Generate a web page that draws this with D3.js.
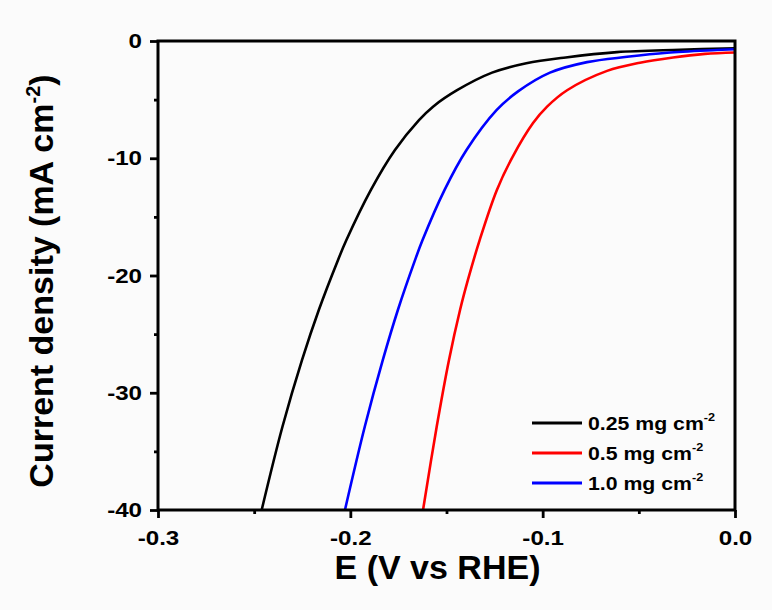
<!DOCTYPE html>
<html>
<head>
<meta charset="utf-8">
<script src="https://cdn.jsdelivr.net/npm/d3@7/dist/d3.min.js"></script>
<style>
  body { margin: 0; background: #fbfbfb; }
  svg { display: block; }
  text { font-family: "Liberation Sans", Arial, sans-serif; font-weight: bold; fill: #000; }
</style>
</head>
<body>
<svg id="chart" width="772" height="610"></svg>
<script>
// LSV polarization curves: potential (V vs RHE) and current density (mA cm^-2)
const potential025 = [-0.2461, -0.2353, -0.2251, -0.2163, -0.2067, -0.2021, -0.1893, -0.1768, -0.1643, -0.1570, -0.1445, -0.1263, -0.1085, -0.0880, -0.0614, -0.0286, 0.0];
const current025   = [-40, -32.9, -27.2, -22.9, -18.8, -17.0, -12.7, -9.3, -6.75, -5.6, -4.2, -2.7, -1.9, -1.4, -0.95, -0.75, -0.62];

const potential05 = [-0.1622, -0.1551, -0.1487, -0.1429, -0.1389, -0.1328, -0.1238, -0.1157, -0.1050, -0.0977, -0.0873, -0.0665, -0.0494, -0.0322, -0.0156, 0.0];
const current05   = [-40, -32.9, -27.2, -22.9, -20.4, -17.0, -12.7, -9.9, -7.0, -5.6, -4.2, -2.55, -1.85, -1.4, -1.1, -0.98];

const potential10 = [-0.2028, -0.1925, -0.1831, -0.1752, -0.1666, -0.1625, -0.1510, -0.1396, -0.1240, -0.1128, -0.0962, -0.0769, -0.0561, -0.0353, -0.0094, 0.0];
const current10   = [-40, -32.9, -27.2, -22.9, -18.8, -17.0, -12.7, -9.3, -5.9, -4.3, -2.7, -1.8, -1.35, -1.0, -0.77, -0.7];

const seriesNames  = ["0.25 mg cm", "0.5 mg cm", "1.0 mg cm"];
const seriesColors = ["#000000", "#ff0000", "#0000ff"];

const xTickValues = [-0.3, -0.2, -0.1, 0.0];
const xMinorTicks = [-0.25, -0.15, -0.05];
const yTickValues = [0, -10, -20, -30, -40];
const yMinorTicks = [-5, -15, -25, -35];

const xTitle = "E (V vs RHE)";
const yTitle = "Current density (mA cm";

const svg = d3.select("#chart");
const margin = { left: 158, top: 41, right: 735, bottom: 510 };

const x = d3.scaleLinear().domain([-0.3, 0.0]).range([margin.left, margin.right]);
const y = d3.scaleLinear().domain([-40, 0]).range([margin.bottom, margin.top]);

const series = [
  { name: seriesNames[0], color: seriesColors[0], e: potential025, j: current025 },
  { name: seriesNames[1], color: seriesColors[1], e: potential05,  j: current05 },
  { name: seriesNames[2], color: seriesColors[2], e: potential10,  j: current10 }
];

// clip to plot frame
svg.append("defs").append("clipPath").attr("id", "plot-clip")
  .append("rect")
  .attr("x", margin.left).attr("y", margin.top)
  .attr("width", margin.right - margin.left).attr("height", margin.bottom - margin.top);

const line = d3.line()
  .x(d => x(d[0]))
  .y(d => y(d[1]))
  .curve(d3.curveCatmullRom.alpha(0.5));

// draw order: black, blue, red (red on top near 0 V)
const drawOrder = [0, 2, 1];
svg.append("g").attr("clip-path", "url(#plot-clip)")
  .selectAll("path")
  .data(drawOrder.map(i => series[i]))
  .join("path")
  .attr("fill", "none")
  .attr("stroke", d => d.color)
  .attr("stroke-width", 2.6)
  .attr("stroke-linejoin", "round")
  .attr("d", d => line(d.e.map((v, i) => [v, d.j[i]])));

// axes
const stretch = 1.15;
const fmtX = v => (v < 0 ? "-" : "") + Math.abs(v).toFixed(1);
const fmtY = v => (v < 0 ? "-" : "") + Math.abs(v).toFixed(0);

const gx = svg.append("g").attr("transform", `translate(0,${margin.bottom})`)
  .call(d3.axisBottom(x).tickValues(xTickValues).tickFormat(fmtX).tickSize(8).tickPadding(12));
const gxMinor = svg.append("g").attr("transform", `translate(0,${margin.bottom})`)
  .call(d3.axisBottom(x).tickValues(xMinorTicks).tickFormat("").tickSize(4));

const gy = svg.append("g").attr("transform", `translate(${margin.left},0)`)
  .call(d3.axisLeft(y).tickValues(yTickValues).tickFormat(fmtY).tickSize(8).tickPadding(8));
const gyMinor = svg.append("g").attr("transform", `translate(${margin.left},0)`)
  .call(d3.axisLeft(y).tickValues(yMinorTicks).tickFormat("").tickSize(4));

[gx, gxMinor, gy, gyMinor].forEach(g => {
  g.select(".domain").remove();
  g.selectAll(".tick line").attr("stroke", "#000").attr("stroke-width", 2.8);
});
gx.selectAll(".tick text")
  .attr("font-size", 21).attr("font-family", null)
  .attr("transform", `scale(${stretch},1)`);
gy.selectAll(".tick text")
  .attr("font-size", 21).attr("font-family", null)
  .attr("x", -16 / stretch)
  .attr("transform", `scale(${stretch},1)`);

// frame
svg.append("rect")
  .attr("x", margin.left).attr("y", margin.top)
  .attr("width", margin.right - margin.left).attr("height", margin.bottom - margin.top)
  .attr("fill", "none").attr("stroke", "#000").attr("stroke-width", 3);

// axis titles
svg.append("text")
  .attr("x", (margin.left + margin.right) / 2 - 9).attr("y", 579)
  .attr("text-anchor", "middle").attr("font-size", 34)
  .text(xTitle);

const yt = svg.append("text")
  .attr("transform", "translate(53,281) rotate(-90)")
  .attr("text-anchor", "middle").attr("font-size", 34);
yt.append("tspan").text(yTitle);
yt.append("tspan").attr("font-size", 20).attr("dy", -13).text("-2");
yt.append("tspan").attr("dy", 13).text(")");

// legend
const legend = svg.append("g");
const legendRows = legend.selectAll("g")
  .data(series)
  .join("g")
  .attr("transform", (d, i) => `translate(532,${423 + i * 30})`);
legendRows.append("line")
  .attr("x1", 0).attr("x2", 50)
  .attr("stroke", d => d.color).attr("stroke-width", 3);
const legendText = legendRows.append("text")
  .attr("transform", `translate(56,6.5) scale(${stretch},1)`)
  .attr("font-size", 18.5);
legendText.append("tspan").text(d => d.name);
legendText.append("tspan").attr("font-size", 11).attr("dy", -9).text("-2");
</script>
</body>
</html>
